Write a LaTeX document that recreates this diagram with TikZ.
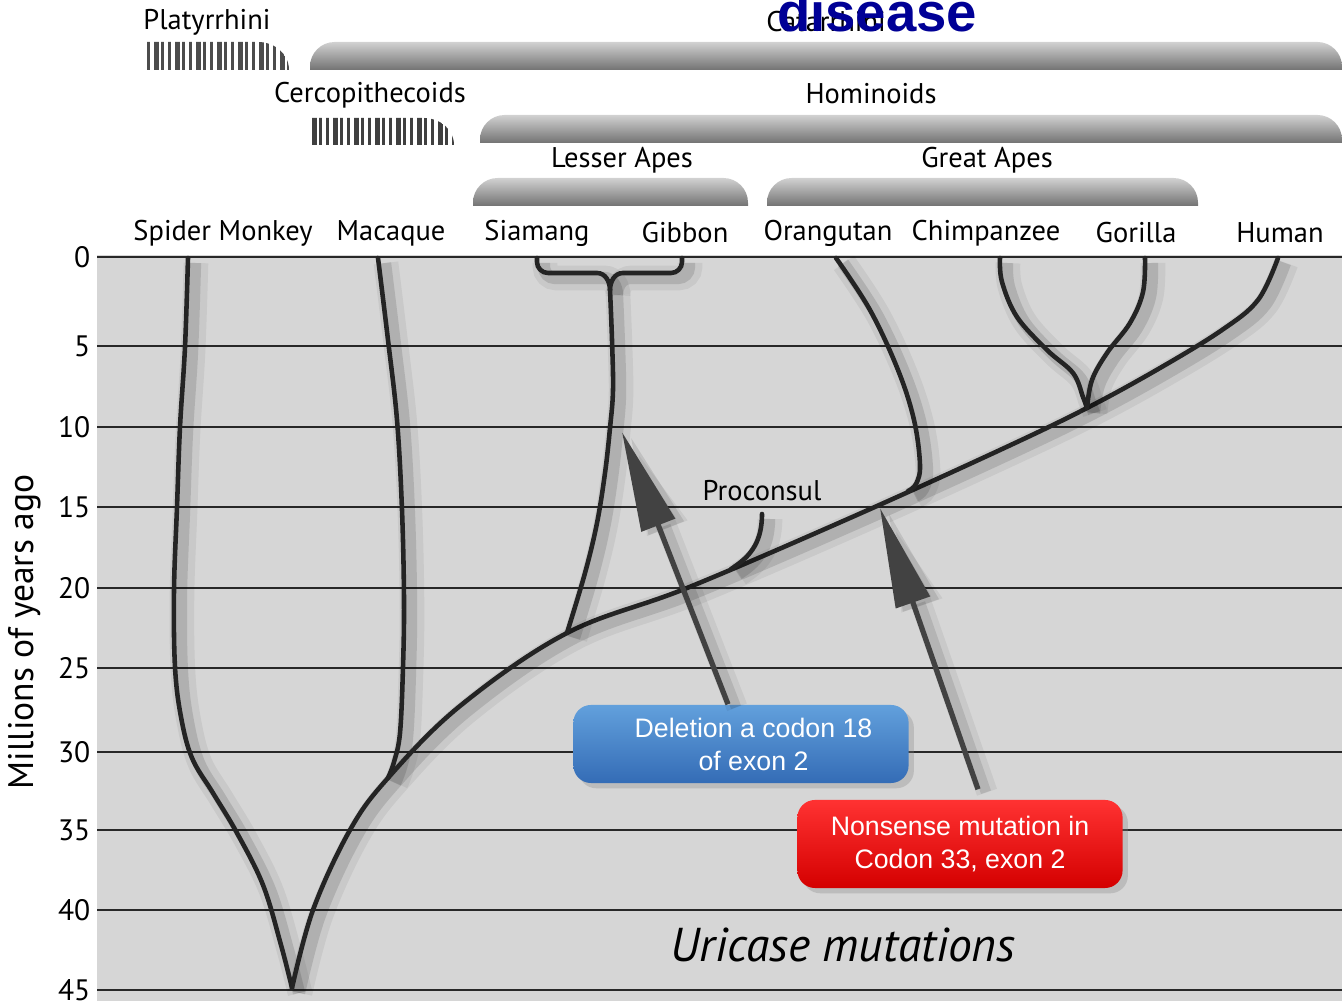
\documentclass[tikz,border=0pt]{standalone}
\usepackage{fontspec}
\setmainfont{PT Sans}
\newfontfamily\arialfont{Liberation Sans}
\usetikzlibrary{arrows.meta, calc, shadows}

\definecolor{fundo}{RGB}{214,214,214}
\definecolor{corramo}{RGB}{36,36,36}
\definecolor{corseta}{RGB}{66,66,66}
\definecolor{corgrade}{RGB}{40,40,40}
\definecolor{azultopo}{RGB}{98,160,220}
\definecolor{azulbase}{RGB}{52,108,182}
\definecolor{vermtopo}{RGB}{255,50,50}
\definecolor{vermbase}{RGB}{212,0,0}
\definecolor{titulo}{RGB}{0,0,150}

\begin{document}
\begin{tikzpicture}[x=0.01cm, y=-0.01cm, font=\fontsize{8.1}{10}\selectfont,
    ramo/.style={draw=corramo, line width=1.3pt, line cap=round, line join=round,
      preaction={draw=black, opacity=0.06, line width=7pt, transform canvas={shift={(8,5)}}},
      preaction={draw=black, opacity=0.12, line width=3.5pt, transform canvas={shift={(7,5)}}}},
    seta/.style={draw=corseta, line width=1.5pt, -{Triangle[length=1cm,width=0.35cm]},
      preaction={draw=black, opacity=0.06, line width=6pt, transform canvas={shift={(9,3)}}},
      preaction={draw=black, opacity=0.1, line width=3pt, transform canvas={shift={(8,3)}}}},
    grade/.style={draw=corgrade, line width=0.75pt},
    barra/.style={top color=black!18, bottom color=black!55},
    caixa/.style={rounded corners=5pt, align=center, text=white, inner sep=2pt,
      font=\arialfont\fontsize{7.6}{9.4}\selectfont,
      drop shadow={opacity=0.3, shadow xshift=1.5pt, shadow yshift=-1.5pt}}]

  \useasboundingbox (0,0) rectangle (1342,1001);
  \fill[fundo] (97,255) rectangle (1342,1001);

  % escala de tempo (milhões de anos)
  \foreach \v/\y in {0/257,5/346,10/427,15/507,20/588,25/668,30/752,35/830,40/910,45/990} {
    \draw[grade] (97,\y) -- (1342,\y);
    \node[anchor=east, inner sep=0, font=\fontsize{8.4}{10}\selectfont] (m\v) at (91,\y) {\v};
  }
  \node[rotate=90, font=\fontsize{10.1}{12}\selectfont] (eixo) at (25,632) {Millions of years ago};

  % grupos no topo
  \node (catarrhini) at (826,22) {Catarrhini};
  \node (platyrrhini) at (207,22) {Platyrrhini};
  \node (cerco) at (370,95) {Cercopithecoids};
  \node (hominoids) at (871,94) {Hominoids};
  \node (lesser) at (622,160) {Lesser Apes};
  \node (great) at (987,160) {Great Apes};
  \shade[barra] (310,70) [rounded corners=7pt] -- (310,42) -- (1342,42) [sharp corners] -- (1342,70) -- cycle;
  \shade[barra] (480,143) [rounded corners=7pt] -- (480,115) -- (1342,115) [sharp corners] -- (1342,143) -- cycle;
  \shade[barra] (473,206) [rounded corners=7pt] -- (473,178) -- (748,178) [sharp corners] -- (748,206) -- cycle;
  \shade[barra] (767,206) [rounded corners=7pt] -- (767,178) -- (1198,178) [sharp corners] -- (1198,206) -- cycle;
  \begin{scope}
    \clip (147,70) -- (147,42) -- (258,42) to[out=0,in=90] (289,70) -- cycle;
    \foreach \k in {0,...,20} {
      \pgfmathsetmacro\w{ifthenelse(mod(\k,3)==1,4.5,3)}
      \fill[black!70] ({147+7*\k},40) rectangle +(\w,32);
    }
  \end{scope}
  \begin{scope}
    \clip (312,145) -- (312,118) -- (424,118) to[out=0,in=90] (454,145) -- cycle;
    \foreach \k in {0,...,20} {
      \pgfmathsetmacro\w{ifthenelse(mod(\k,3)==0,4.5,3)}
      \fill[black!75] ({312+7*\k},116) rectangle +(\w,32);
    }
  \end{scope}

  % espécies atuais
  \foreach \n/\x/\t in {spider/223/Spider Monkey, macaque/391/Macaque, siamang/537/Siamang,
      gibbon/685/Gibbon, orangutan/828/Orangutan, chimp/986/Chimpanzee,
      gorilla/1136/Gorilla, human/1280/Human}
    \node (\n) at (\x,233) {\t};

  % pontas e junções da árvore
  \coordinate (pSM) at (188,258);
  \coordinate (pMa) at (378,258);
  \coordinate (pSi) at (537,258);
  \coordinate (pGi) at (682,258);
  \coordinate (pOr) at (836,258);
  \coordinate (pCh) at (1000,258);
  \coordinate (pGo) at (1145,258);
  \coordinate (pHu) at (1278,258);
  \coordinate (pPr) at (762,514);
  \coordinate (raiz) at (292,988);
  \coordinate (jMa) at (388,778);
  \coordinate (jLA) at (567,633);
  \coordinate (jPr) at (731,569);
  \coordinate (jOr) at (908,491);
  \coordinate (jCG) at (1087,408);
  \coordinate (jGG) at (610,290);

  \draw[ramo] plot[smooth, tension=0.6] coordinates {(pSM) (185,347) (180,427) (177,507)
    (174,590) (175,667) (181,717) (192,758) (213,793) (237,833) (263,885) (281,945) (raiz)};
  \draw[ramo] plot[smooth, tension=0.6] coordinates {(pMa) (388,340) (397,420) (402,510)
    (404,600) (403,667) (400,733) (394,762) (jMa)};
  \draw[ramo] plot[smooth, tension=0.6] coordinates {(raiz) (313,910) (350,830) (jMa)
    (460,706) (jLA) (687,588) (850,518) (1000,450) (jCG) (1160,368) (1222,330) (1258,300) (pHu)};
  \draw[ramo] (pSi) -- (537,262) to[out=-90,in=180] (548,273) -- (597,273) to[out=0,in=90] (jGG);
  \draw[ramo] (pGi) -- (682,262) to[out=-90,in=0] (671,273) -- (623,273) to[out=180,in=90] (jGG);
  \draw[ramo] plot[smooth, tension=0.6] coordinates {(jGG) (612,340) (613,390) (610,428)
    (605,473) (597,523) (585,573) (jLA)};
  \draw[ramo] (pPr) .. controls (762,545) and (748,558) .. (jPr);
  \draw[ramo] plot[smooth, tension=0.6] coordinates {(pOr) (870,310) (898,370) (914,420)
    (920,465) (916,484) (jOr)};
  \draw[ramo] plot[smooth, tension=0.6] coordinates {(pCh) (1002,282) (1017,317) (1047,350)
    (1073,373) (1083,397) (jCG)};
  \draw[ramo] plot[smooth, tension=0.6] coordinates {(pGo) (1143,292) (1130,323) (1107,353)
    (1092,380) (jCG)};
  \node (proconsul) at (762,491) {Proconsul};

  % mutações do gene da uricase
  \node[caixa, top color=azultopo, bottom color=azulbase, minimum width=3.35cm,
    minimum height=0.78cm] (delecao) at (741,744) {\hspace*{0.25cm}Deletion a codon 18\\\hspace*{0.25cm}of exon 2};
  \node[caixa, top color=vermtopo, bottom color=vermbase, minimum width=3.25cm,
    minimum height=0.88cm] (nonsense) at (960,844) {Nonsense mutation in\\Codon 33, exon 2};
  \coordinate (alvo1) at (622,432);
  \coordinate (alvo2) at (880,508);
  \draw[seta] ($(delecao.north)+(-13,0)$) -- (alvo1);
  \draw[seta] ($(nonsense.north)+(18,-10)$) -- (alvo2);

  \node[font=\itshape\fontsize{13.5}{16}\selectfont] (uricase) at (843,945) {Uricase mutations};
  \node[font=\arialfont\bfseries\fontsize{15.5}{18}\selectfont, text=titulo] (disease) at (877,12) {disease};
\end{tikzpicture}
\end{document}
